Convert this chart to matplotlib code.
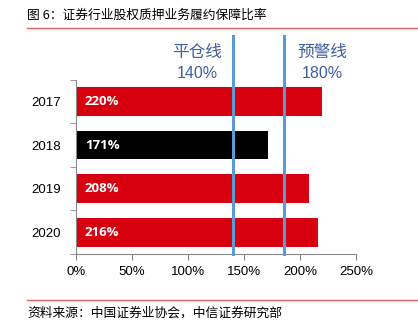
import matplotlib.pyplot as plt
import matplotlib.lines as mlines

plt.rcParams['font.family'] = ['Liberation Sans', 'Noto Sans CJK SC', 'DejaVu Sans']

# 数据
years = ['2017', '2018', '2019', '2020']
ratios = [220, 171, 208, 216]
bar_labels = ['220%', '171%', '208%', '216%']
bar_colors = ['#D7000F', '#000000', '#D7000F', '#D7000F']
line_x = [140, 186]
line_names = ['平仓线', '预警线']
line_values = ['140%', '180%']
line_text_x = [108, 220]

fig = plt.figure(figsize=(4.18, 3.29), dpi=100)
ax = fig.add_axes([0.1818, 0.228, 0.67, 0.530])

ypos = list(range(len(years)))
ax.barh(ypos, ratios, height=0.66, color=bar_colors, zorder=2)
for y, lab in zip(ypos, bar_labels):
    ax.text(8, y, lab, color='white', fontsize=9.5, fontweight='bold',
            family=['Open Sans', 'DejaVu Sans'], ha='left', va='center', zorder=3)

ax.set_ylim(3.5, -0.5)
ax.set_xlim(0, 250)

# 平仓线 / 预警线
for x, name, val, tx in zip(line_x, line_names, line_values, line_text_x):
    ax.axvline(x, ymin=0, ymax=1.25, color='#5B9BD5', lw=2.2, clip_on=False, zorder=4)
    ax.text(tx, -1.13, name, color='#3F5E9E', fontsize=12, ha='center', va='center')
    ax.text(tx, -0.63, val, color='#3F5E9E', fontsize=11.5, ha='center', va='center')

ax.set_xticks([0, 50, 100, 150, 200, 250])
ax.set_xticklabels(['0%', '50%', '100%', '150%', '200%', '250%'], fontsize=9.5)
ax.set_yticks(ypos)
ax.set_yticklabels(years, fontsize=9.5)
ax.set_yticks([-0.5, 0.5, 1.5, 2.5, 3.5], minor=True)
ax.tick_params(axis='y', which='major', length=0, pad=11)
ax.tick_params(axis='y', which='minor', length=4, color='#888888')
ax.tick_params(axis='x', length=4, color='#888888', pad=5)

for s in ['top', 'right']:
    ax.spines[s].set_visible(False)
for s in ['left', 'bottom']:
    ax.spines[s].set_color('#888888')

# 标题和来源
fig.text(27 / 418, 1 - 15 / 329, '图 6：证券行业股权质押业务履约保障比率', fontsize=9.2,
         family=['Noto Sans CJK SC', 'DejaVu Sans'], ha='left', va='center')
fig.add_artist(mlines.Line2D([27 / 418, 1], [1 - 27.5 / 329] * 2, color='#E06060', lw=1))
fig.add_artist(mlines.Line2D([27 / 418, 1], [1 - 300 / 329] * 2, color='#E06060', lw=1))
fig.text(27 / 418, 1 - 313 / 329, '资料来源：中国证券业协会，中信证券研究部', fontsize=9.2,
         family=['Noto Sans CJK SC', 'DejaVu Sans'], ha='left', va='center')

fig.savefig('out.png', dpi=100)
